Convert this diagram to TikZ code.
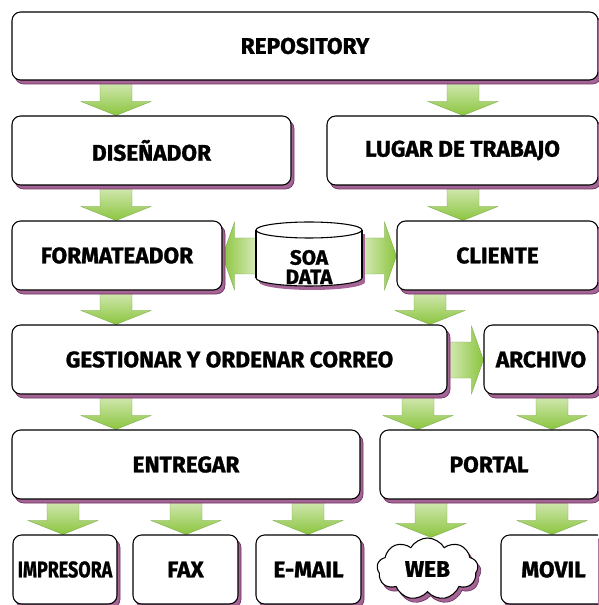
\documentclass[tikz,border=0pt]{standalone}
\usepackage{fontspec}
\setmainfont{Fira Sans}[BoldFeatures={FakeBold=1.2}]
\usetikzlibrary{shapes.symbols,calc}
\pgfdeclarelayer{arrows}
\pgfdeclarelayer{shadows}
\pgfdeclarelayer{bodies}
\pgfsetlayers{arrows,shadows,bodies,main}

\definecolor{shadowfill}{RGB}{165,100,150}
\definecolor{shadowline}{RGB}{110,50,95}
\definecolor{arrowlight}{RGB}{214,234,184}
\definecolor{arrowdark}{RGB}{139,197,63}
\definecolor{arrowline}{RGB}{125,170,80}

\tikzset{
  boxtext/.style={font=\fontsize{17}{18}\selectfont\bfseries},
  box/.style={draw=black, line width=0.8pt, fill=white, rounded corners=6.5pt,
    inner sep=0pt, align=center, boxtext},
  shadowbox/.style={fill=shadowfill, draw=shadowline, line width=0.5pt,
    rounded corners=6.5pt, inner sep=0pt},
  varrowstyle/.style={top color=arrowlight, bottom color=arrowdark,
    draw=arrowline, line width=0.3pt},
  larrowstyle/.style={left color=arrowdark, right color=arrowlight,
    draw=arrowline, line width=0.3pt},
  rarrowstyle/.style={left color=arrowlight, right color=arrowdark,
    draw=arrowline, line width=0.3pt},
  cloudbox/.style={cloud, cloud puffs=9, cloud puff arc=120, aspect=1.6,
    inner sep=0pt},
}

% name, x, y, w, h (px), text
\newcommand\mybox[6]{%
  \begin{pgfonlayer}{shadows}
    \node[shadowbox, minimum width=#4*0.75pt, minimum height=#5*0.75pt] at (#2+3,#3+4) {};
  \end{pgfonlayer}
  \node[box, minimum width=#4*0.75pt, minimum height=#5*0.75pt] (#1) at (#2,#3) {#6};}

% vertical arrow: x (px), from node, to node
\newcommand\varr[3]{%
  \begin{pgfonlayer}{arrows}
    \path[varrowstyle] let \p1=(#2.south), \p2=(#3.north) in
      ({#1*0.75pt-12pt},\y1) -- ({#1*0.75pt+12pt},\y1)
      -- ({#1*0.75pt+12pt},{\y2+10.5pt}) -- ({#1*0.75pt+26.25pt},{\y2+10.5pt})
      -- ({#1*0.75pt},\y2)
      -- ({#1*0.75pt-26.25pt},{\y2+10.5pt}) -- ({#1*0.75pt-12pt},{\y2+10.5pt})
      -- cycle;
  \end{pgfonlayer}}

% horizontal arrows: y (px), tail anchor, tip anchor
\newcommand\larr[3]{%
  \begin{pgfonlayer}{arrows}
    \path[larrowstyle] let \p1=(#2), \p2=(#3) in
      (\x1,{-#1*0.75pt+13.5pt}) -- ({\x2+9pt},{-#1*0.75pt+13.5pt})
      -- ({\x2+9pt},{-#1*0.75pt+25.5pt}) -- (\x2,{-#1*0.75pt})
      -- ({\x2+9pt},{-#1*0.75pt-25.5pt}) -- ({\x2+9pt},{-#1*0.75pt-13.5pt})
      -- (\x1,{-#1*0.75pt-13.5pt}) -- cycle;
  \end{pgfonlayer}}
\newcommand\rarr[3]{%
  \begin{pgfonlayer}{arrows}
    \path[rarrowstyle] let \p1=(#2), \p2=(#3) in
      (\x1,{-#1*0.75pt+13.5pt}) -- ({\x2-9pt},{-#1*0.75pt+13.5pt})
      -- ({\x2-9pt},{-#1*0.75pt+25.5pt}) -- (\x2,{-#1*0.75pt})
      -- ({\x2-9pt},{-#1*0.75pt-25.5pt}) -- ({\x2-9pt},{-#1*0.75pt-13.5pt})
      -- (\x1,{-#1*0.75pt-13.5pt}) -- cycle;
  \end{pgfonlayer}}

\begin{document}
\begin{tikzpicture}[x=0.75pt, y=-0.75pt]
\useasboundingbox (0,0) rectangle (598,605);
\clip (0,0) rectangle (598,605);

\mybox{repo}{305}{46}{586}{68}{REPOSITORY}
\mybox{dis}{151.5}{150.5}{279}{69}{DISEÑADOR}
\mybox{lugar}{462.5}{150.5}{271}{69}{LUGAR DE TRABAJO}
\mybox{form}{117}{255.5}{210}{69}{FORMATEADOR}
\mybox{cliente}{497.5}{255.5}{201}{69}{CLIENTE}
\mybox{gest}{229.5}{359.5}{435}{69}{GESTIONAR Y ORDENAR CORREO}
\mybox{arch}{541}{359.5}{114}{69}{ARCHIVO}
\mybox{entr}{186}{464.5}{348}{69}{ENTREGAR}
\mybox{portal}{489}{464.5}{218}{69}{PORTAL}
\mybox{imp}{65}{569.5}{104}{69}{\scalebox{0.79}[1]{IMPRESORA}}
\mybox{fax}{185.5}{569.5}{105}{69}{FAX}
\mybox{email}{308.5}{569.5}{105}{69}{E-MAIL}
\mybox{movil}{553.5}{569.5}{105}{69}{MOVIL}

% SOA DATA cylinder
\node[inner sep=0pt, minimum width=106*0.75pt, minimum height=64*0.75pt, align=center,
  font=\fontsize{15.5}{14.5}\selectfont\bfseries] (cyl) at (309,267) {SOA\\DATA};
\begin{pgfonlayer}{shadows}
  \fill[shadowfill] (259,234) rectangle (365,282);
  \fill[shadowfill] (312,282) ellipse [x radius=53, y radius=8];
\end{pgfonlayer}
\begin{pgfonlayer}{bodies}
  \fill[white] (256,230) rectangle (362,278);
  \fill[white] (309,278) ellipse [x radius=53, y radius=8];
  \fill[white] (309,230) ellipse [x radius=53, y radius=8];
  \draw[line width=0.8pt] (256,230) -- (256,278) (362,230) -- (362,278);
  \draw[line width=0.8pt] (309,230) ellipse [x radius=53, y radius=8];
  \draw[line width=0.8pt] (256,278) arc [start angle=180, end angle=0, x radius=53, y radius=8];
\end{pgfonlayer}

% WEB cloud
\begin{pgfonlayer}{shadows}
  \node[cloudbox, fill=shadowfill, draw=shadowline, line width=0.5pt,
    minimum width=101*0.75pt, minimum height=62*0.75pt] at (430.5,573) {};
\end{pgfonlayer}
\node[cloudbox, draw=black, line width=0.8pt, fill=white, boxtext,
  minimum width=101*0.75pt, minimum height=62*0.75pt] (web) at (427.5,569) {WEB};

% arrows
\varr{116}{repo}{dis}
\varr{463}{repo}{lugar}
\varr{116}{dis}{form}
\varr{463}{lugar}{cliente}
\varr{116}{form}{gest}
\varr{430}{cliente}{gest}
\varr{116}{gest}{entr}
\varr{418}{gest}{portal}
\varr{552}{arch}{portal}
\varr{63}{entr}{imp}
\varr{186}{entr}{fax}
\varr{308}{entr}{email}
\varr{431}{portal}{web}
\varr{552}{portal}{movil}
\larr{256}{cyl.west}{form.east}
\rarr{256}{cyl.east}{cliente.west}
\rarr{360}{gest.east}{arch.west}
\end{tikzpicture}
\end{document}
